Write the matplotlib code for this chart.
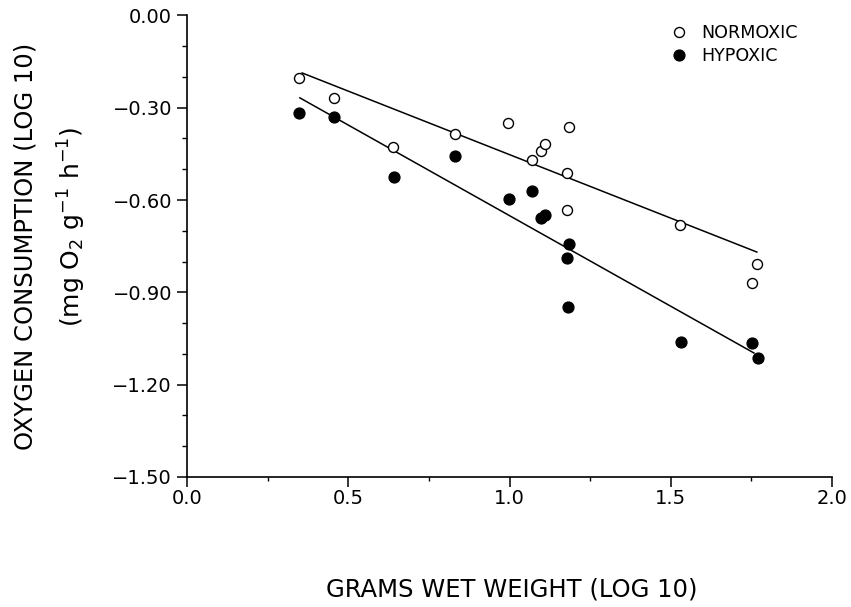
import matplotlib
matplotlib.use("Agg")
import matplotlib.pyplot as plt
from matplotlib.ticker import MultipleLocator, FuncFormatter

plt.rcParams['font.family'] = ['DejaVu Sans']
plt.rcParams['mathtext.fontset'] = 'custom'
plt.rcParams['mathtext.rm'] = 'DejaVu Sans'
plt.rcParams['mathtext.default'] = 'regular'

# Data (log10 grams wet weight, log10 oxygen consumption)
normoxic_x = [0.347, 0.456, 0.639, 0.831, 0.995, 1.070, 1.098, 1.110, 1.178, 1.184, 1.178, 1.529, 1.767, 1.752]
normoxic_y = [-0.203, -0.268, -0.428, -0.385, -0.350, -0.470, -0.441, -0.418, -0.512, -0.363, -0.632, -0.681, -0.808, -0.870]
hypoxic_x = [0.347, 0.456, 0.642, 0.831, 0.998, 1.070, 1.098, 1.110, 1.184, 1.178, 1.181, 1.532, 1.752, 1.770]
hypoxic_y = [-0.317, -0.330, -0.525, -0.457, -0.597, -0.571, -0.658, -0.649, -0.743, -0.788, -0.948, -1.061, -1.065, -1.113]

# Regression lines (endpoints)
normoxic_fit_x = [0.357, 1.767]
normoxic_fit_y = [-0.187, -0.769]
hypoxic_fit_x = [0.350, 1.758]
hypoxic_fit_y = [-0.268, -1.097]

x_ticks = [0.0, 0.5, 1.0, 1.5, 2.0]
y_ticks = [0.00, -0.30, -0.60, -0.90, -1.20, -1.50]

W, H = 851, 607
fig = plt.figure(figsize=(W / 100, H / 100), dpi=100)
ax = fig.add_axes([187 / W, 1 - 477 / H, (832 - 187) / W, (477 - 15.4) / H])

ax.plot(normoxic_fit_x, normoxic_fit_y, color='black', lw=1.1)
ax.plot(hypoxic_fit_x, hypoxic_fit_y, color='black', lw=1.1)
ax.plot(normoxic_x, normoxic_y, linestyle='none', marker='o', markersize=7.2,
        markerfacecolor='white', markeredgecolor='black', markeredgewidth=1.0,
        label='NORMOXIC', clip_on=False)
ax.plot(hypoxic_x, hypoxic_y, linestyle='none', marker='o', markersize=7.8,
        markerfacecolor='black', markeredgecolor='black', markeredgewidth=1.0,
        label='HYPOXIC', clip_on=False)

ax.set_xlim(0, 2.0)
ax.set_ylim(-1.5, 0.0)
ax.set_xticks(x_ticks)
ax.set_yticks(y_ticks)
ax.xaxis.set_minor_locator(MultipleLocator(0.25))
ax.yaxis.set_minor_locator(MultipleLocator(0.1))
ax.xaxis.set_major_formatter(FuncFormatter(lambda v, p: f'{v:.1f}'))
ax.yaxis.set_major_formatter(FuncFormatter(
    lambda v, p: ('\u2212' if v < -1e-9 else '') + f'{abs(v):.2f}'))

for s in ['top', 'right']:
    ax.spines[s].set_visible(False)
for s in ['left', 'bottom']:
    ax.spines[s].set_linewidth(1.2)

ax.tick_params(axis='both', which='major', direction='out', length=7.2, width=1.1,
               labelsize=14)
ax.tick_params(axis='y', which='minor', direction='out', length=3.6, width=1.0)
ax.tick_params(axis='x', which='minor', direction='out', length=3.0, width=1.0)
ax.tick_params(axis='x', which='major', pad=1.5)
ax.tick_params(axis='y', which='major', pad=3.6)

leg = ax.legend(loc='upper left', bbox_to_anchor=(670 / W, 1 - 24 / H),
                bbox_transform=fig.transFigure, frameon=False, fontsize=12.6,
                handlelength=1.0, handletextpad=0.8, borderpad=0,
                borderaxespad=0, labelspacing=0.3)

fig.text(512 / W, 1 - 590 / H, 'GRAMS WET WEIGHT (LOG 10)', ha='center', va='center',
         fontsize=17.5)
fig.text(26 / W, 1 - 246 / H, 'OXYGEN CONSUMPTION (LOG 10)', rotation=90,
         ha='center', va='center', fontsize=17.5)
fig.text(72 / W, 1 - 227 / H, r'(mg O$_2$ g$^{-1}$ h$^{-1}$)', rotation=90,
         ha='center', va='center', fontsize=18)

fig.savefig('out.png', dpi=100, facecolor='white')
